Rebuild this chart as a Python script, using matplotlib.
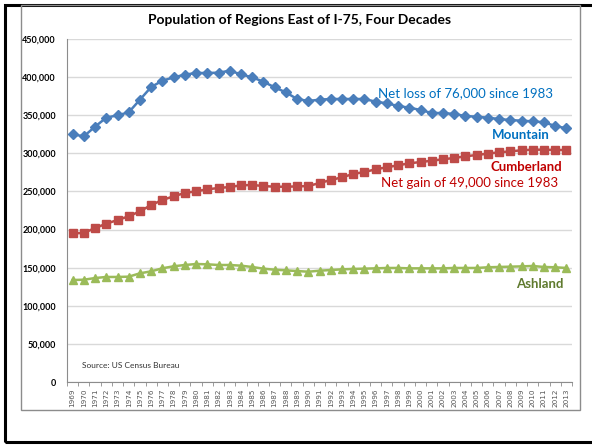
import matplotlib.pyplot as plt
from matplotlib.patches import Rectangle
from matplotlib.ticker import FuncFormatter

years = list(range(1969, 2014))

mountain = [
    325000, 322300, 335000, 346800, 349900, 353800, 370400, 387000, 395300, 399700,
    403200, 405400, 405400, 405800, 408400, 403700, 399700, 394000, 386600, 380000,
    371300, 368700, 370400, 371300, 371300, 371300, 371300, 367800, 365600, 362100,
    359900, 356900, 352900, 352900, 351600, 349000, 348000, 346800, 345000, 343700,
    342800, 342000, 340700, 335900, 332800,
]

cumberland = [
    195100, 195500, 202000, 207700, 212500, 217400, 223900, 232200, 238800, 243600,
    248000, 250200, 252800, 254500, 255800, 258000, 258500, 257100, 256200, 256200,
    256600, 257100, 261000, 265000, 268500, 272900, 275500, 279000, 281700, 284300,
    286900, 288600, 290300, 292200, 293900, 296100, 297800, 299600, 301300, 302600,
    304000, 304800, 304800, 304400, 304400,
]

ashland = [
    133800, 134200, 136400, 137800, 137800, 138200, 142600, 145200, 149200, 151800,
    153500, 154800, 154400, 153500, 153500, 152600, 150900, 148700, 147300, 146500,
    145600, 144700, 146000, 146900, 147800, 148300, 148700, 149100, 149600, 149600,
    149100, 149100, 149100, 149100, 149600, 149600, 149600, 150500, 150900, 151300,
    151700, 152200, 150900, 150500, 149600,
]

yticks = [0, 50000, 100000, 150000, 200000, 250000, 300000, 350000, 400000, 450000]

plt.rcParams["font.family"] = ["Lato", "DejaVu Sans"]

fig = plt.figure(figsize=(5.92, 4.45), dpi=100)

# outer frame and chart box
W, H = 592, 445
fig.patches.append(Rectangle((5 / W, 1 - 442 / H), 600 / W, 437 / H, transform=fig.transFigure,
                             fill=False, edgecolor="black", linewidth=2.2, zorder=0))
fig.patches.append(Rectangle((21 / W, 1 - 410 / H), 559 / W, 405 / H, transform=fig.transFigure,
                             fill=False, edgecolor="#8c8c8c", linewidth=1.0, zorder=0))

ax = fig.add_axes([67 / W, 1 - 382 / H, 505 / W, 343 / H])
x = list(range(len(years)))

ax.plot(x, mountain, color="#4A7EBB", linewidth=1.8, marker="D", markersize=4.8, zorder=3)
ax.plot(x, cumberland, color="#BE4B48", linewidth=1.8, marker="s", markersize=5.8, zorder=3)
ax.plot(x, ashland, color="#9BBB59", linewidth=1.8, marker="^", markersize=5.8, zorder=3)

ax.set_xlim(-0.5, len(years) - 0.5)
ax.set_ylim(0, 450000)
ax.set_yticks(yticks)
ax.yaxis.set_major_formatter(FuncFormatter(lambda v, p: f"{int(v):,}"))
ax.grid(axis="y", color="#D9D9D9", linewidth=1.0)
ax.set_axisbelow(True)

ax.set_xticks(x)
ax.set_xticklabels([str(y) for y in years], rotation=90, fontsize=5.2, color="#555555",
                   family="DejaVu Sans")
ax.set_xticks([i - 0.5 for i in range(len(years) + 1)], minor=True)
ax.tick_params(axis="x", which="major", length=0, pad=5)
ax.tick_params(axis="x", which="minor", length=3, color="#8c8c8c", direction="out")
ax.tick_params(axis="y", length=0, labelsize=6.5, pad=8)
for lbl in ax.get_yticklabels():
    lbl.set_fontweight("bold")

for side in ["top", "right"]:
    ax.spines[side].set_visible(False)
ax.spines["left"].set_color("#8c8c8c")
ax.spines["bottom"].set_color("#8c8c8c")

fig.text(300 / W, 1 - 20 / H, "Population of Regions East of I-75, Four Decades",
         ha="center", va="center", fontsize=10, fontweight="bold")

fig.text(553 / W, 1 - 93 / H, "Net loss of 76,000 since 1983", ha="right", va="center",
         fontsize=9.5, color="#0070C0")
fig.text(550 / W, 1 - 135 / H, "Mountain", ha="right", va="center",
         fontsize=9.5, fontweight="bold", color="#0070C0")
fig.text(562 / W, 1 - 167 / H, "Cumberland", ha="right", va="center",
         fontsize=9.5, fontweight="bold", color="#C00000")
fig.text(558 / W, 1 - 183 / H, "Net gain of 49,000 since 1983", ha="right", va="center",
         fontsize=9.5, color="#C00000")
fig.text(563 / W, 1 - 284 / H, "Ashland", ha="right", va="center",
         fontsize=9.5, fontweight="bold", color="#5F7A2E")
fig.text(82 / W, 1 - 365 / H, "Source: US Census Bureau", ha="left", va="center",
         fontsize=6, color="#333333")

fig.savefig("out.png", dpi=100)
